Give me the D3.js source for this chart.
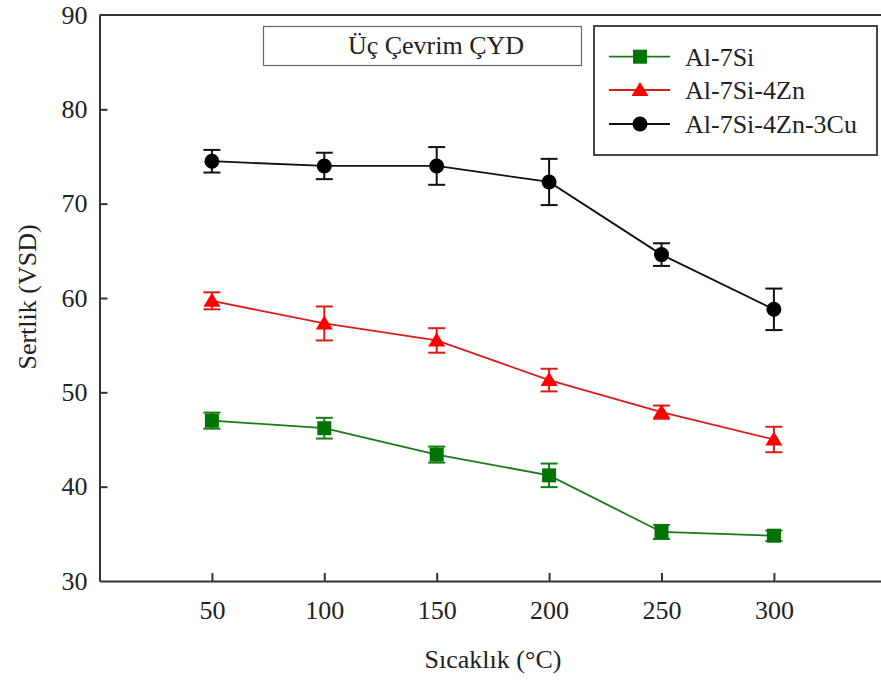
<!DOCTYPE html>
<html>
<head>
<meta charset="utf-8">
<script src="https://cdn.jsdelivr.net/npm/d3@7"></script>
<style>
  html, body { margin: 0; padding: 0; background: #fff; }
  svg, svg text { font-family: 'Liberation Serif', 'Times New Roman', serif !important; }
  svg { display: block; }
</style>
</head>
<body>
<svg id="chart" width="881" height="680"></svg>
<script>
// Temperatures (°C)
const temps = [50, 100, 150, 200, 250, 300];
const xTicks = [50, 100, 150, 200, 250, 300];
const yTicks = [30, 40, 50, 60, 70, 80, 90];

// Hardness (VSD) and standard deviation for each alloy
const seriesNames = ["Al-7Si", "Al-7Si-4Zn", "Al-7Si-4Zn-3Cu"];
const al7si      = [47.0, 46.2, 43.4, 41.2, 35.2, 34.8];
const al7siErr   = [0.85, 1.1, 0.85, 1.25, 0.75, 0.55];
const al7si4zn   = [59.7, 57.3, 55.5, 51.3, 47.9, 45.0];
const al7si4znErr= [0.9, 1.8, 1.3, 1.2, 0.7, 1.35];
const al7si4zn3cu    = [74.5, 74.0, 74.0, 72.3, 64.6, 58.8];
const al7si4zn3cuErr = [1.2, 1.4, 2.0, 2.45, 1.2, 2.2];

const titleText = "Üç Çevrim ÇYD";
const xTitle = "Sıcaklık (°C)";
const yTitle = "Sertlik (VSD)";

const series = [
  { name: seriesNames[0], values: al7si, errs: al7siErr, line: "#1a7a1a", fill: "#007400", shape: "square" },
  { name: seriesNames[1], values: al7si4zn, errs: al7si4znErr, line: "#dc1c1c", fill: "#ff0000", shape: "triangle" },
  { name: seriesNames[2], values: al7si4zn3cu, errs: al7si4zn3cuErr, line: "#111", fill: "#000", shape: "circle" }
];

const svg = d3.select("#chart");
const W = 881, H = 680;
const plotLeft = 99.5, plotTop = 15, plotBottom = 581;
const serif = "'Liberation Serif', 'Times New Roman', serif";

const x = d3.scaleLinear().domain([0, 350]).range([plotLeft, plotLeft + 350 * 2.248]);
const y = d3.scaleLinear().domain([30, 90]).range([plotBottom, plotTop]);

const axisColor = "#333";

// Axes with inward ticks
const gy = svg.append("g").attr("transform", `translate(${plotLeft},0)`)
  .call(d3.axisLeft(y).tickValues(yTicks).tickSizeInner(-8).tickSizeOuter(0).tickPadding(12));
gy.attr("font-family", null).style("font-family", serif);
gy.select(".domain").attr("stroke", axisColor).attr("stroke-width", 2);
gy.selectAll(".tick line").attr("stroke", axisColor).attr("stroke-width", 2);
gy.selectAll(".tick text").attr("font-size", 26).attr("fill", "#222").style("font-family", serif);
gy.selectAll(".tick").filter(d => d === 30 || d === 90).select("line").remove();

const gx = svg.append("g").attr("transform", `translate(0,${plotBottom})`)
  .call(d3.axisBottom(x).tickValues(xTicks).tickSizeInner(-8).tickSizeOuter(0).tickPadding(20));
gx.attr("font-family", null).style("font-family", serif);
gx.select(".domain").attr("stroke", axisColor).attr("stroke-width", 2);
gx.selectAll(".tick line").attr("stroke", axisColor).attr("stroke-width", 2);
gx.selectAll(".tick text").attr("font-size", 26).attr("fill", "#222").style("font-family", serif);

// Top frame line
svg.append("line")
  .attr("x1", plotLeft).attr("x2", W + 10).attr("y1", y(90)).attr("y2", y(90))
  .attr("stroke", axisColor).attr("stroke-width", 2);

// Marker drawing
function drawMarker(g, shape, cx, cy, fill) {
  if (shape === "circle") {
    g.append("circle").attr("cx", cx).attr("cy", cy).attr("r", 7.5).attr("fill", fill);
  } else if (shape === "square") {
    g.append("rect").attr("x", cx - 7).attr("y", cy - 7).attr("width", 14).attr("height", 14).attr("fill", fill);
  } else {
    g.append("path")
      .attr("d", `M${cx},${cy - 8}L${cx + 8.5},${cy + 6}L${cx - 8.5},${cy + 6}Z`)
      .attr("fill", fill);
  }
}

const line = d3.line().x((d, i) => x(temps[i])).y(d => y(d));

series.forEach(s => {
  const g = svg.append("g");
  g.append("path").datum(s.values).attr("d", line)
    .attr("fill", "none").attr("stroke", s.line).attr("stroke-width", 1.8);

  // Error bars
  s.values.forEach((v, i) => {
    const cx = x(temps[i]);
    const y1 = y(v + s.errs[i]), y2 = y(v - s.errs[i]);
    const eg = g.append("g").attr("stroke", s.line).attr("stroke-width", 2);
    eg.append("line").attr("x1", cx).attr("x2", cx).attr("y1", y1).attr("y2", y2);
    eg.append("line").attr("x1", cx - 8.5).attr("x2", cx + 8.5).attr("y1", y1).attr("y2", y1);
    eg.append("line").attr("x1", cx - 8.5).attr("x2", cx + 8.5).attr("y1", y2).attr("y2", y2);
  });

  s.values.forEach((v, i) => drawMarker(g, s.shape, x(temps[i]), y(v), s.fill));
});

// Title box
svg.append("rect").attr("x", 263.5).attr("y", 26.5).attr("width", 318).attr("height", 39)
  .attr("fill", "#fff").attr("stroke", "#666").attr("stroke-width", 1.2);
svg.append("text").attr("x", 436).attr("y", 54).attr("text-anchor", "middle")
  .attr("font-size", 26).attr("fill", "#222").style("font-family", serif).text(titleText);

// Legend
const lg = svg.append("g");
lg.append("rect").attr("x", 594).attr("y", 26).attr("width", 283).attr("height", 129)
  .attr("fill", "#fff").attr("stroke", "#333").attr("stroke-width", 1.8);
const rowY = [56.7, 90, 124];
series.forEach((s, i) => {
  lg.append("line").attr("x1", 609).attr("x2", 670).attr("y1", rowY[i]).attr("y2", rowY[i])
    .attr("stroke", s.line).attr("stroke-width", 1.8);
  drawMarker(lg, s.shape, 640, rowY[i], s.fill);
  lg.append("text").attr("x", 685).attr("y", rowY[i]).attr("dy", "0.34em")
    .attr("font-size", 26).attr("fill", "#222").style("font-family", serif).text(s.name);
});

// Axis titles
svg.append("text").attr("x", 493).attr("y", 668).attr("text-anchor", "middle")
  .attr("font-size", 26).attr("fill", "#222").style("font-family", serif).text(xTitle);
svg.append("text").attr("transform", "translate(36,297) rotate(-90)")
  .attr("text-anchor", "middle").attr("font-size", 26).attr("fill", "#222")
  .style("font-family", serif).text(yTitle);
</script>
</body>
</html>
